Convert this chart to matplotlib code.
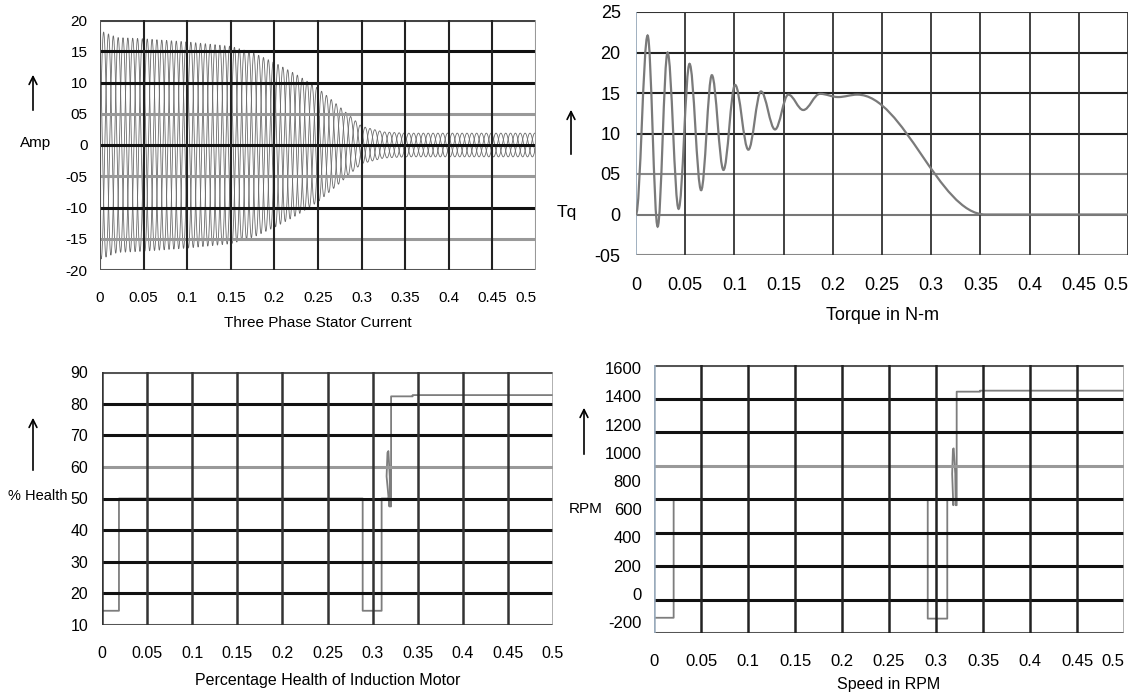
import numpy as np
import matplotlib
matplotlib.use("Agg")
from matplotlib import pyplot as plt
from matplotlib.path import Path
from matplotlib.patches import PathPatch, FancyArrowPatch

plt.rcParams['font.family'] = ['Liberation Sans', 'DejaVu Sans']
plt.rcParams['axes.unicode_minus'] = False

# ---- data ----
time_ticks = [0, 0.05, 0.1, 0.15, 0.2, 0.25, 0.3, 0.35, 0.4, 0.45, 0.5]
time_labels = ['0', '0.05', '0.1', '0.15', '0.2', '0.25', '0.3', '0.35', '0.4', '0.45', '0.5']

# stator current: peak envelope (A) and supply frequency
current_env_t = [0, 0.02, 0.05, 0.1, 0.15, 0.175, 0.2, 0.225, 0.25, 0.275, 0.3, 0.325, 0.35, 0.5]
current_env_amp = [18.3, 17.2, 17.0, 16.5, 15.8, 14.8, 13.2, 11.3, 9.1, 6.1, 3.0, 2.1, 1.9, 1.9]
supply_hz = 60
current_ticks = [20, 15, 10, 5, 0, -5, -10, -15, -20]
current_labels = ['20', '15', '10', '05', '0', '-05', '-10', '-15', '-20']

# torque: turning points of the curve
torque_t = [0, 0.0118, 0.022, 0.0321, 0.0433, 0.0544, 0.0662, 0.0771, 0.0889, 0.1007,
            0.1142, 0.127, 0.1413, 0.1548, 0.170, 0.187, 0.2055, 0.225, 0.355, 0.5]
torque_v = [0, 22.1, -1.5, 20.0, 0.7, 18.6, 3.0, 17.2, 5.5, 16.0,
            8.0, 15.2, 10.5, 14.8, 12.9, 14.9, 14.5, 14.8, 0, 0]
torque_ticks = [25, 20, 15, 10, 5, 0, -5]
torque_labels = ['25', '20', '15', '10', '05', '0', '-05']

# percentage health
health_t = [0, 0.0188, 0.0188, 0.289, 0.289, 0.31, 0.31, 0.3186, 0.3186, 0.3155,
            0.3165, 0.3175, 0.319, 0.3193, 0.3205, 0.3205, 0.3444, 0.3444, 0.5]
health_v = [14.5, 14.5, 50, 50, 14.5, 14.5, 50, 50, 47.5, 57,
            64.5, 65, 57, 47.5, 47.5, 82.3, 82.3, 82.7, 82.7]
health_ticks = [90, 80, 70, 60, 50, 40, 30, 20, 10]

# speed
speed_t = [0, 0.0209, 0.0209, 0.2912, 0.2912, 0.312, 0.312, 0.3184, 0.3184, 0.3172,
           0.318, 0.3188, 0.3205, 0.3209, 0.322, 0.322, 0.3468, 0.3468, 0.5]
speed_v = [-170, -170, 670, 670, -176, -176, 670, 670, 628, 850,
           1025, 1031, 850, 628, 628, 1433, 1433, 1440, 1440]
speed_ticks = [1600, 1400, 1200, 1000, 800, 600, 400, 200, 0, -200]

W, H = 1129, 693
fig = plt.figure(figsize=(W / 100, H / 100), dpi=100)


def add_ax(l, t, r, b):
    return fig.add_axes([l / W, 1 - b / H, (r - l) / W, (b - t) / H])


def fig_xy(x, y):
    return x / W, 1 - y / H


def arrow(x, y_tail, y_head):
    fig.add_artist(FancyArrowPatch(fig_xy(x, y_tail), fig_xy(x, y_head), transform=fig.transFigure,
                                   arrowstyle='->', mutation_scale=14, lw=1.2, color='black'))


def style(ax, ylim, fs, xpad, ypad, last_right=True):
    ax.set_xlim(0, 0.5)
    ax.set_ylim(*ylim)
    ax.set_xticks(time_ticks)
    ax.set_xticklabels(time_labels)
    ax.tick_params(length=0, labelsize=fs, colors='black')
    ax.tick_params(axis='x', pad=xpad)
    ax.tick_params(axis='y', pad=ypad)
    if last_right:
        ax.get_xticklabels()[-1].set_ha('right')
    for s in ax.spines.values():
        s.set_visible(False)


def grid(ax, hpos, hcols, vcols, hlw=2.0, vlw=1.6):
    for y, c in zip(hpos, hcols):
        ax.axhline(y, color=c, lw=hlw, zorder=3)
    for x, c in zip(time_ticks, vcols):
        ax.axvline(x, color=c, lw=vlw, zorder=3)


def smooth_path(xs, ys, k=0.36):
    verts = [(xs[0], ys[0])]
    codes = [Path.MOVETO]
    for x0, y0, x1, y1 in zip(xs[:-1], ys[:-1], xs[1:], ys[1:]):
        dx = x1 - x0
        verts += [(x0 + k * dx, y0), (x1 - k * dx, y1), (x1, y1)]
        codes += [Path.CURVE4] * 3
    return Path(verts, codes)


# ---- top left: three phase stator current ----
ax1 = add_ax(100, 20, 536, 270)
style(ax1, (-20, 20), 11, 15, 9)
ax1.set_yticks(current_ticks)
ax1.set_yticklabels(current_labels)
grid(ax1, current_ticks,
     ['#444', '#111', '#111', '#999', '#111', '#999', '#111', '#999', '#555'],
     ['#555'] + ['#222'] * 9 + ['#999'], hlw=2.2, vlw=1.5)
t = np.linspace(0, 0.5, 8000)
amp = np.interp(t, current_env_t, current_env_amp)
for ph in [0, 2 * np.pi / 3, 4 * np.pi / 3]:
    ax1.plot(t, amp * np.sin(2 * np.pi * supply_hz * t + ph), color='#6a6a6a', lw=0.6, zorder=2)
ax1.set_xlabel('Three Phase Stator Current', fontsize=11, labelpad=8)
fig.text(*fig_xy(36, 143), 'Amp', fontsize=11, ha='center', va='center')
arrow(33, 113, 72)

# ---- top right: torque ----
ax2 = add_ax(636, 12, 1128, 255)
style(ax2, (-5, 25), 13, 16, 11)
ax2.set_yticks(torque_ticks)
ax2.set_yticklabels(torque_labels)
grid(ax2, torque_ticks,
     ['#333', '#222', '#222', '#222', '#888', '#777', '#888'],
     ['#9ab'] + ['#333'] * 10, hlw=1.5, vlw=1.3)
ax2.add_patch(PathPatch(smooth_path(torque_t, torque_v), fill=False, edgecolor='#7a7a7a', lw=1.6, zorder=4))
ax2.set_xlabel('Torque in N-m', fontsize=13, labelpad=9)
fig.text(*fig_xy(567, 213), 'Tq', fontsize=12.5, ha='center', va='center')
arrow(571, 157, 107)

# ---- bottom left: percentage health ----
ax3 = add_ax(102, 372, 553, 625)
style(ax3, (10, 90), 11.5, 15, 10, last_right=False)
ax3.set_yticks(health_ticks)
grid(ax3, health_ticks,
     ['#555', '#111', '#111', '#999', '#111', '#111', '#111', '#111', '#555'],
     ['#333'] * 10 + ['#999'], hlw=2.2, vlw=1.8)
ax3.plot(health_t, health_v, color='#7d7d7d', lw=1.3, zorder=2)
ax3.set_xlabel('Percentage Health of Induction Motor', fontsize=11.5, labelpad=9)
fig.text(*fig_xy(68, 496), '% Health', fontsize=10.5, ha='right', va='center')
arrow(33, 473, 415)

# ---- bottom right: speed ----
ax4 = add_ax(654, 365, 1124, 633)
speed_lim = (-278, 1622)
style(ax4, speed_lim, 12, 15, 9)
ax4.set_yticks(speed_ticks)
ax4.set_yticklabels([str(v) for v in speed_ticks])
grid(ax4, np.linspace(speed_lim[1], speed_lim[0], 9),
     ['#555', '#111', '#111', '#999', '#111', '#111', '#111', '#111', '#555'],
     ['#9ab'] + ['#222'] * 9 + ['#999'], hlw=2.2, vlw=1.8)
ax4.plot(speed_t, speed_v, color='#7d7d7d', lw=1.3, zorder=2)
ax4.set_xlabel('Speed in RPM', fontsize=11.5, labelpad=6)
fig.text(*fig_xy(586, 509), 'RPM', fontsize=11, ha='center', va='center')
arrow(584, 457, 405)

fig.savefig('out.png', dpi=100, facecolor='white')
